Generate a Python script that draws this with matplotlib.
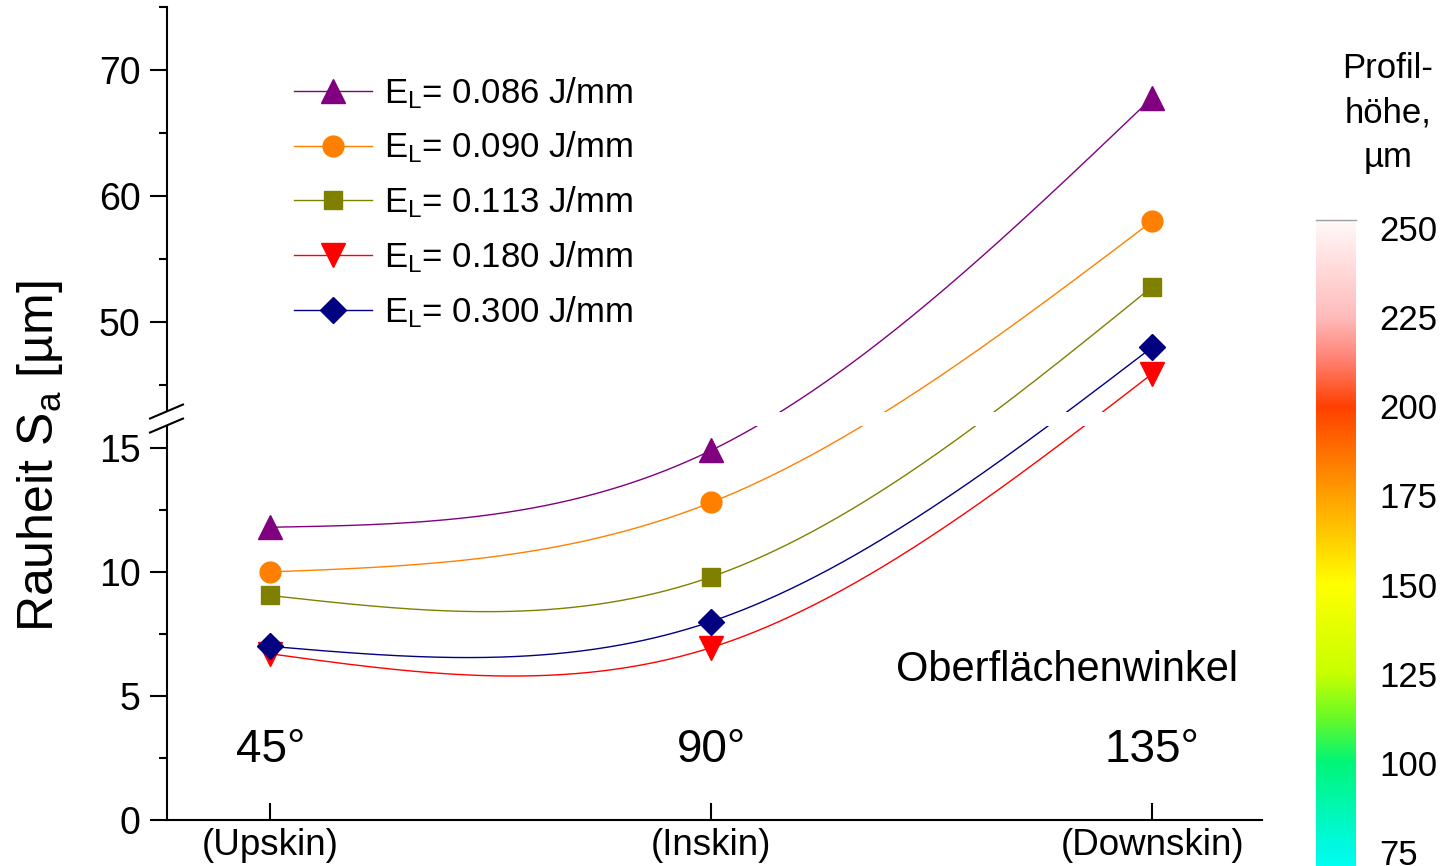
import numpy as np
import matplotlib
matplotlib.use('Agg')
import matplotlib.pyplot as plt
from matplotlib.lines import Line2D
from matplotlib.colors import LinearSegmentedColormap
from matplotlib.transforms import blended_transform_factory

plt.rcParams['font.family'] = ['Liberation Sans', 'DejaVu Sans']
plt.rcParams['mathtext.fontset'] = 'custom'
plt.rcParams['mathtext.rm'] = 'Liberation Sans'
plt.rcParams['mathtext.it'] = 'Liberation Sans'

# data
angles = ['45°', '90°', '135°']
skins = ['(Upskin)', '(Inskin)', '(Downskin)']
energies = ['0.086', '0.090', '0.113', '0.180', '0.300']
sa_086 = [11.8, 14.9, 67.8]
sa_090 = [10.0, 12.8, 58.0]
sa_113 = [9.05, 9.8, 52.8]
sa_180 = [6.7, 6.95, 45.9]
sa_300 = [7.0, 8.0, 48.0]
series = [sa_086, sa_090, sa_113, sa_180, sa_300]

colors = ['#800080', '#ff8000', '#808000', '#ff0000', '#000080']
markers = ['^', 'o', 's', 'v', 'D']
msizes = [17, 15, 13, 17, 13]

major_ticks = [0, 5, 10, 15, 50, 60, 70]
minor_ticks = [2.5, 7.5, 12.5, 45, 55, 65, 75]
cbar_ticks = [75, 100, 125, 150, 175, 200, 225, 250]

# broken y axis: lower part 0..15.9, upper part 42.9..75 (half scale)
lo_top, hi_bot = 15.9, 42.9
gap = 0.565
ratio = 0.508
yk = np.array([-1000, lo_top, hi_bot, 1000.0])
tk = np.array([-1000, lo_top, lo_top + gap, lo_top + gap + (1000 - hi_bot) * ratio])


def fwd(y):
    return np.interp(y, yk, tk)


def inv(t):
    return np.interp(t, tk, yk)


def natural_spline(xk, fk, xs):
    n = len(xk)
    h = np.diff(xk)
    A = np.zeros((n, n))
    r = np.zeros(n)
    A[0, 0] = A[-1, -1] = 1
    for i in range(1, n - 1):
        A[i, i - 1] = h[i - 1]
        A[i, i] = 2 * (h[i - 1] + h[i])
        A[i, i + 1] = h[i]
        r[i] = 6 * ((fk[i + 1] - fk[i]) / h[i] - (fk[i] - fk[i - 1]) / h[i - 1])
    M = np.linalg.solve(A, r)
    idx = np.clip(np.searchsorted(xk, xs) - 1, 0, n - 2)
    x0, x1 = xk[idx], xk[idx + 1]
    hh = x1 - x0
    a = (x1 - xs) / hh
    b = (xs - x0) / hh
    return a * fk[idx] + b * fk[idx + 1] + ((a**3 - a) * M[idx] + (b**3 - b) * M[idx + 1]) * hh**2 / 6


W, H = 1448, 866
fig = plt.figure(figsize=(W / 100, H / 100), dpi=100)
ax = fig.add_axes([167 / W, (H - 820) / H, 1095 / W, 813 / H])
ax.set_yscale('function', functions=(fwd, inv))
ax.set_ylim(0, 75)
ax.set_xlim(-0.234, 2.249)

x = np.arange(len(angles), dtype=float)
xs = np.linspace(0, 2, 400)
handles = []
for vals, c, m, ms, e in zip(series, colors, markers, msizes, energies):
    t = fwd(np.array(vals))
    ys = inv(natural_spline(x, t, xs))
    ax.plot(xs, ys, color=c, lw=1, zorder=2)
    ax.plot(x, vals, ls='none', marker=m, ms=ms, color=c, zorder=4)
    handles.append(Line2D([], [], color=c, lw=1, marker=m, ms=ms,
                          label='E$_\\mathregular{L}$= ' + e + ' J/mm'))

# white gap across the break
ax.axhspan(lo_top, hi_bot, xmin=-0.004, xmax=1, color='white', lw=0,
           zorder=3, clip_on=False)

# break marks on the axis
span = fwd(75) - fwd(0)
for yb in (lo_top, hi_bot):
    fy = (fwd(yb) - fwd(0)) / span
    ax.plot([-0.0155, 0.0146], [fy - 0.0086, fy + 0.0086], transform=ax.transAxes,
            color='k', lw=1.5, clip_on=False, zorder=5)

ax.spines['top'].set_visible(False)
ax.spines['right'].set_visible(False)
ax.spines['left'].set_linewidth(1.5)
ax.spines['bottom'].set_linewidth(1.5)

ax.set_yticks(major_ticks)
ax.set_yticks(minor_ticks, minor=True)
ax.set_yticklabels([str(v) for v in major_ticks])
ax.tick_params(axis='y', which='major', direction='out', length=12, width=1.5,
               labelsize=27, pad=7)
ax.tick_params(axis='y', which='minor', direction='out', length=6, width=1.5)
ax.set_xticks(x)
ax.set_xticklabels(skins)
ax.tick_params(axis='x', which='major', direction='in', length=12, width=1.5,
               labelsize=26.5, pad=6)
ax.tick_params(axis='x', which='minor', bottom=False)

tr = blended_transform_factory(ax.transData, ax.transAxes)
for i, a in enumerate(angles):
    ax.text(i, 0.086, a, transform=tr, ha='center', va='center', fontsize=33)
ax.text(1.807, 0.1845, 'Oberflächenwinkel', transform=tr, ha='center',
        va='center', fontsize=30)

fig.text(40 / W, 1 - 456 / H, 'Rauheit S$_\\mathregular{a}$ [µm]', rotation=90,
         ha='center', va='center', fontsize=36)

ax.legend(handles=handles, loc='upper left', bbox_to_anchor=(294 / W, 1 - 75 / H),
          bbox_transform=fig.transFigure, frameon=False, fontsize=25,
          handlelength=2.25, handletextpad=0.35, labelspacing=0.55,
          borderpad=0, borderaxespad=0)

# colour bar on the right
cmap_vals = [71, 75, 100, 112, 125, 150, 175, 200, 213, 225, 250, 253]
cmap_cols = ['#00fff0', '#00fae6', '#00f578', '#64fa28', '#c8ff00', '#ffff00',
             '#ffa000', '#ff4000', '#ff8070', '#ffbaba', '#fff4f4', '#fff8f8']
lo, hi = cmap_vals[0], cmap_vals[-1]
cmap = LinearSegmentedColormap.from_list(
    'profil', [((v - lo) / (hi - lo), c) for v, c in zip(cmap_vals, cmap_cols)])
cax = fig.add_axes([1316 / W, 0, 40 / W, (H - 220) / H])
grad = np.linspace(lo, hi, 512)[:, None]
cax.imshow(grad, aspect='auto', cmap=cmap, origin='lower', vmin=lo, vmax=hi,
           extent=[0, 1, lo, hi])
cax.set_ylim(71.1, 252.2)
cax.set_xlim(0, 1)
cax.set_xticks([])
cax.yaxis.tick_right()
cax.set_yticks(cbar_ticks)
cax.tick_params(axis='y', length=0, labelsize=25, pad=17)
for s in ['left', 'right', 'bottom']:
    cax.spines[s].set_visible(False)
cax.spines['top'].set_color('#a0a0a0')
cax.spines['top'].set_linewidth(1)

fig.text(1388 / W, 1 - 113 / H, 'Profil-\nhöhe,\nµm', ha='center', va='center',
         fontsize=25, linespacing=1.45)

fig.savefig('out.png', dpi=100)
